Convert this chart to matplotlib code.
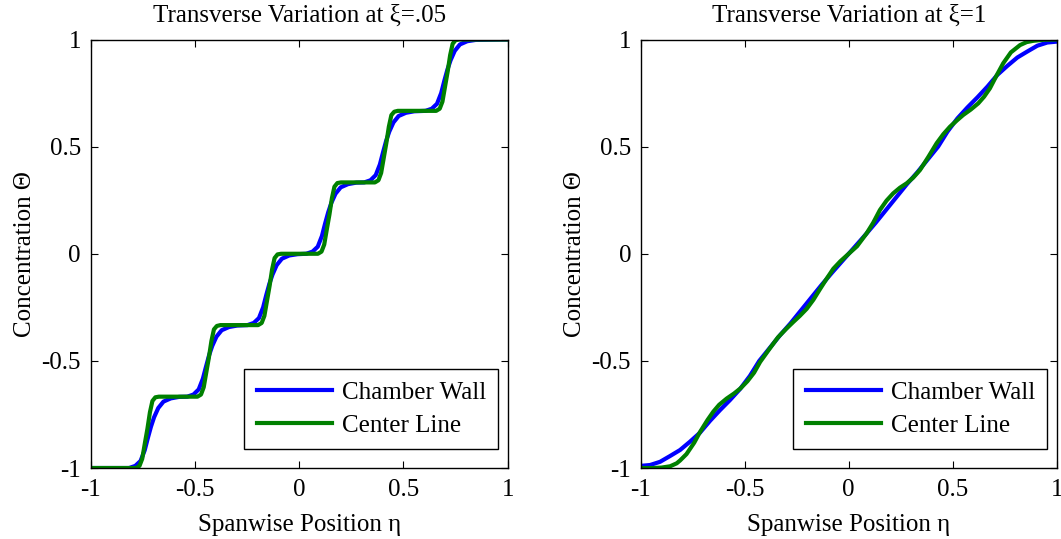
"""
Transverse concentration profiles at two downstream positions.
"""

import matplotlib.pyplot as plt

plt.rcParams["font.family"] = ["Liberation Serif", "DejaVu Serif"]
plt.rcParams["axes.unicode_minus"] = False

# --- Left panel, xi = .05 (staircase) ---
wall_eta_05 = [
    -1.0, -0.816, -0.786, -0.761, -0.741, -0.726, -0.711, -0.696, -0.676, -0.651, -0.616, -0.576,
    -0.537, -0.507, -0.482, -0.462, -0.447, -0.432, -0.417, -0.397, -0.372, -0.337, -0.297,
    -0.248, -0.218, -0.193, -0.173, -0.158, -0.143, -0.128, -0.108, -0.083, -0.048, -0.008,
    0.034, 0.064, 0.089, 0.109, 0.124, 0.139, 0.154, 0.174, 0.199, 0.234, 0.274,
    0.312, 0.342, 0.367, 0.387, 0.402, 0.417, 0.432, 0.452, 0.477, 0.512, 0.552,
    0.606, 0.636, 0.661, 0.681, 0.696, 0.711, 0.726, 0.746, 0.771, 0.806, 0.846, 1.0,
]
wall_theta_05 = [
    -1.0, -1.0, -0.99, -0.967, -0.917, -0.86, -0.807, -0.763, -0.72, -0.69, -0.675, -0.668,
    -0.667, -0.657, -0.633, -0.583, -0.527, -0.473, -0.43, -0.387, -0.357, -0.342, -0.335,
    -0.333, -0.323, -0.30, -0.25, -0.193, -0.14, -0.097, -0.053, -0.023, -0.008, -0.002,
    0.0, 0.01, 0.033, 0.083, 0.14, 0.193, 0.237, 0.28, 0.31, 0.325, 0.332,
    0.333, 0.343, 0.367, 0.417, 0.473, 0.527, 0.57, 0.613, 0.643, 0.658, 0.665,
    0.667, 0.677, 0.70, 0.75, 0.807, 0.86, 0.903, 0.947, 0.977, 0.992, 0.998, 1.0,
]
center_eta_05 = [
    -1.0, -0.783, -0.766, -0.753, -0.740, -0.728, -0.716, -0.704, -0.690, -0.673,
    -0.488, -0.471, -0.458, -0.445, -0.433, -0.421, -0.409, -0.395, -0.378,
    -0.197, -0.180, -0.167, -0.154, -0.142, -0.130, -0.118, -0.104, -0.087,
    0.090, 0.107, 0.120, 0.133, 0.145, 0.157, 0.169, 0.183, 0.200,
    0.363, 0.380, 0.393, 0.406, 0.418, 0.430, 0.442, 0.456, 0.473,
    0.657, 0.674, 0.687, 0.700, 0.712, 0.724, 0.736, 0.750, 0.767, 1.0,
]
center_theta_05 = [
    -1.0, -1.0, -0.99, -0.957, -0.883, -0.817, -0.74, -0.687, -0.67, -0.667,
    -0.667, -0.657, -0.623, -0.55, -0.483, -0.407, -0.353, -0.337, -0.333,
    -0.333, -0.323, -0.29, -0.217, -0.15, -0.073, -0.02, -0.003, 0.0,
    0.0, 0.01, 0.043, 0.117, 0.183, 0.26, 0.313, 0.33, 0.333,
    0.333, 0.343, 0.377, 0.45, 0.517, 0.593, 0.647, 0.663, 0.667,
    0.667, 0.677, 0.71, 0.783, 0.85, 0.927, 0.98, 0.997, 1.0, 1.0,
]

# --- Right panel, xi = 1 (nearly linear) ---
wall_eta_1 = [
    -1.0, -0.955, -0.907, -0.859, -0.811, -0.763, -0.715, -0.667, -0.619, -0.571, -0.523,
    -0.475, -0.43, -0.38, -0.33, -0.28, -0.23, -0.18, -0.13, -0.08, -0.04, 0.0,
    0.04, 0.08, 0.13, 0.18, 0.23, 0.28, 0.33, 0.38, 0.43, 0.475,
    0.523, 0.571, 0.619, 0.667, 0.715, 0.763, 0.811, 0.859, 0.907, 0.955, 1.0,
]
wall_theta_1 = [
    -0.99, -0.986, -0.971, -0.944, -0.916, -0.877, -0.835, -0.78, -0.73, -0.683, -0.632,
    -0.57, -0.50, -0.44, -0.38, -0.325, -0.265, -0.205, -0.145, -0.088, -0.044, 0.0,
    0.044, 0.088, 0.145, 0.205, 0.265, 0.325, 0.38, 0.44, 0.50, 0.57,
    0.632, 0.683, 0.73, 0.78, 0.835, 0.877, 0.916, 0.944, 0.971, 0.986, 0.99,
]
center_eta_1 = [
    -1.0, -0.94, -0.9, -0.859, -0.827, -0.811, -0.78, -0.743, -0.715, -0.679, -0.651,
    -0.623, -0.587, -0.551, -0.52, -0.487, -0.455, -0.426, -0.378, -0.34, -0.30,
    -0.266, -0.235, -0.202, -0.17, -0.138, -0.105, -0.074, -0.04, 0.0,
    0.04, 0.086, 0.118, 0.15, 0.182, 0.214, 0.246, 0.279, 0.31, 0.343, 0.383,
    0.423, 0.455, 0.487, 0.52, 0.551, 0.587, 0.623, 0.651, 0.679, 0.71, 0.743,
    0.78, 0.824, 0.856, 0.888, 0.94, 1.0,
]
center_theta_1 = [
    -1.0, -1.0, -0.998, -0.992, -0.978, -0.965, -0.935, -0.882, -0.832, -0.776, -0.737,
    -0.705, -0.676, -0.652, -0.628, -0.595, -0.555, -0.505, -0.44, -0.39, -0.35,
    -0.318, -0.29, -0.257, -0.215, -0.165, -0.115, -0.07, -0.035, 0.0,
    0.035, 0.095, 0.145, 0.204, 0.248, 0.282, 0.308, 0.329, 0.355, 0.391, 0.452,
    0.516, 0.558, 0.593, 0.622, 0.648, 0.673, 0.702, 0.733, 0.772, 0.83, 0.889,
    0.94, 0.974, 0.988, 0.994, 0.999, 1.0,
]

ticks = [-1, -0.5, 0, 0.5, 1]
tick_labels = ["-1", "-0.5", "0", "0.5", "1"]

panels = [
    ("Transverse Variation at ξ=.05", wall_eta_05, wall_theta_05, center_eta_05, center_theta_05),
    ("Transverse Variation at ξ=1", wall_eta_1, wall_theta_1, center_eta_1, center_theta_1),
]

fig = plt.figure(figsize=(10.61, 5.39), dpi=100)
axes_rects = [
    [0.0855, 0.1317, 0.393, 0.795],
    [0.6039, 0.1317, 0.392, 0.795],
]

for rect, (title, we, wt, ce, ct) in zip(axes_rects, panels):
    ax = fig.add_axes(rect)
    ax.plot(we, wt, color="#0000ff", lw=3.0, label="Chamber Wall")
    ax.plot(ce, ct, color="#008000", lw=3.0, label="Center Line")
    ax.set_xlim(-1, 1)
    ax.set_ylim(-1, 1)
    ax.set_xticks(ticks)
    ax.set_xticklabels(tick_labels)
    ax.set_yticks(ticks)
    ax.set_yticklabels(tick_labels)
    ax.tick_params(direction="in", top=True, right=True, length=5, labelsize=18)
    ax.tick_params(axis="x", pad=8)
    ax.tick_params(axis="y", pad=7)
    for spine in ax.spines.values():
        spine.set_linewidth(1.0)
    ax.set_title(title, fontsize=18, pad=13)
    ax.set_xlabel("Spanwise Position η", fontsize=18, labelpad=9)
    ax.set_ylabel("Concentration Θ", fontsize=18, labelpad=4)
    leg = ax.legend(loc="lower right", bbox_to_anchor=(0.9775, 0.0443),
                    borderaxespad=0, fontsize=18, fancybox=False,
                    edgecolor="black", framealpha=1, handlelength=3.0,
                    handletextpad=0.4, labelspacing=0.4, borderpad=0.5)
    leg.get_frame().set_linewidth(1.0)

fig.savefig("out.png", dpi=100)
